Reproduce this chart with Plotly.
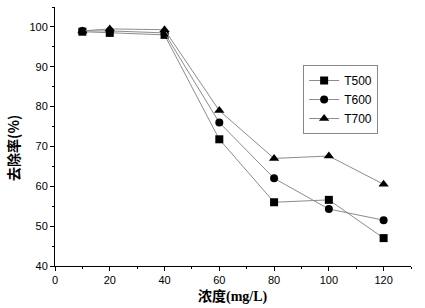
import plotly.graph_objects as go

x_vals = [10, 20, 40, 60, 80, 100, 120]
t500 = [98.8, 98.5, 98.0, 71.8, 56.0, 56.6, 47.0]
t600 = [99.0, 99.0, 98.5, 76.0, 62.0, 54.3, 51.5]
t700 = [99.0, 99.5, 99.3, 79.0, 67.0, 67.6, 60.5]
names = ["T500", "T600", "T700"]
symbols = ["square", "circle", "triangle-up"]

fig = go.Figure()
for name, ys, sym in zip(names, [t500, t600, t700], symbols):
    fig.add_trace(go.Scatter(
        x=x_vals, y=ys, name=name, mode="lines+markers",
        line=dict(color="#8c8c8c", width=1),
        marker=dict(symbol=sym, size=8 if sym != "triangle-up" else 9, color="black"),
    ))

axis_common = dict(
    showline=True, linecolor="black", linewidth=1, mirror=False,
    ticks="outside", ticklen=4, tickcolor="black", showgrid=False, zeroline=False,
    automargin=False,
    tickfont=dict(family="Liberation Sans, Arial", size=11, color="black"),
)
fig.update_xaxes(range=[0, 130], tick0=0, dtick=20,
                 minor=dict(dtick=10, ticks="outside", ticklen=2, tickcolor="black"),
                 **axis_common)
fig.update_yaxes(range=[40, 105], tick0=40, dtick=10,
                 minor=dict(dtick=5, ticks="outside", ticklen=2, tickcolor="black"),
                 **axis_common)

fig.add_annotation(text="<b>浓度<span style=\"font-family:'Liberation Serif'\">(mg/L)</span></b>",
                   xref="paper", yref="paper",
                   x=0.5, y=-0.112, xanchor="center", yanchor="middle", showarrow=False,
                   font=dict(family="Noto Sans CJK SC", size=14, color="black"))
fig.add_annotation(text="<b>去除率(%)</b>", xref="paper", yref="paper",
                   x=-0.118, y=0.456, xanchor="center", yanchor="middle", showarrow=False,
                   textangle=-90,
                   font=dict(family="Noto Sans CJK SC, Liberation Sans", size=14, color="black"))

fig.update_layout(
    width=425, height=308,
    margin=dict(l=55, r=14, t=7, b=42, autoexpand=False),
    paper_bgcolor="white", plot_bgcolor="white",
    showlegend=True,
    legend=dict(x=0.697, y=0.776, xanchor="left", yanchor="top",
                bordercolor="#888888", borderwidth=1, bgcolor="white",
                font=dict(family="Liberation Sans, Arial", size=12, color="black"),
                tracegroupgap=0, itemwidth=30),
)

fig.write_html("out.html", config={"displayModeBar": False},
               post_script="document.body.style.margin='0';document.body.style.padding='0';")
